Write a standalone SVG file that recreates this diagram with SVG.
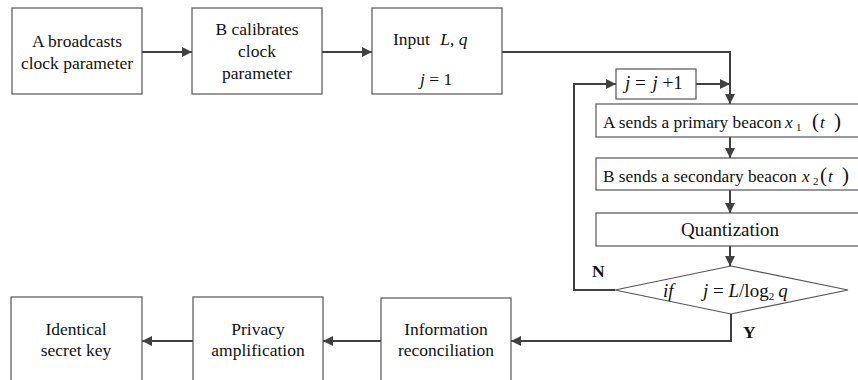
<svg xmlns="http://www.w3.org/2000/svg" width="858" height="380" viewBox="0 0 858 380">
<defs>
<marker id="ah" viewBox="0 0 10 10" refX="10" refY="5" markerWidth="10" markerHeight="10" markerUnits="userSpaceOnUse" orient="auto">
<path d="M0,0 L10,5 L0,10 Z" fill="#404040"/>
</marker>
<style>
.box{fill:#fff;stroke:#555;stroke-width:1.2}
.t{font-family:'Liberation Serif','Times New Roman',serif;font-size:17.5px;fill:#111}
.r{font-size:19px}
.s{font-size:17.3px}
.sub{font-size:11px}
.p{font-size:21px}
.c{text-anchor:middle}
.i{font-style:italic}
.b{font-weight:bold}
.ar{fill:none;stroke:#404040;stroke-width:2;marker-end:url(#ah)}
</style>
</defs>
<rect width="858" height="380" fill="#fff"/>
<g id="connectors">
<path class="ar" d="M142,52 H192"/>
<path class="ar" d="M322,52 H372"/>
<path class="ar" d="M502,52 H730 V104"/>
<path class="ar" d="M615,290 H574 V84 H616"/>
<path class="ar" d="M696,84 H730"/>
<path class="ar" d="M730,137 V158"/>
<path class="ar" d="M730,190 V213"/>
<path class="ar" d="M730,246 V266"/>
<path class="ar" d="M731,314 V341 H511"/>
<path class="ar" d="M381,341 H323"/>
<path class="ar" d="M193,341 H142"/>
</g>
<g id="n1"><rect class="box" x="12" y="8" width="130" height="86"/>
<text class="t c" x="77" y="47">A broadcasts</text><text class="t c" x="77" y="69">clock parameter</text></g>
<g id="n2"><rect class="box" x="192" y="8" width="130" height="86"/>
<text class="t c" x="257" y="35">B calibrates</text><text class="t c" x="257" y="57">clock</text><text class="t c" x="257" y="79">parameter</text></g>
<g id="n3"><rect class="box" x="372" y="8" width="130" height="86"/>
<text class="t" x="393" y="45">Input <tspan class="i" dx="6">L</tspan>, <tspan class="i">q</tspan></text>
<text class="t" x="420" y="85"><tspan class="i">j</tspan> = 1</text></g>
<g id="n4"><rect class="box" x="616" y="69" width="80" height="30"/>
<text class="t r" x="625" y="89"><tspan class="i">j</tspan> = <tspan class="i" dx="2">j</tspan> +1</text></g>
<g id="n5"><rect class="box" x="596" y="104" width="280" height="33"/>
<text class="t s" x="603" y="128">A sends a primary beacon <tspan class="i" x="785">x</tspan><tspan class="sub" x="796" y="131">1</tspan><tspan class="p" x="812" y="128">(</tspan><tspan class="i" x="820">t</tspan><tspan class="p" x="834">)</tspan></text></g>
<g id="n6"><rect class="box" x="596" y="158" width="280" height="32"/>
<text class="t s" x="603" y="182">B sends a secondary beacon <tspan class="i" x="802">x</tspan><tspan class="sub" x="813" y="185">2</tspan><tspan class="p" x="820" y="182">(</tspan><tspan class="i" x="828">t</tspan><tspan class="p" x="842">)</tspan></text></g>
<g id="n7"><rect class="box" x="596" y="213" width="280" height="33"/>
<text class="t r c" x="730" y="236">Quantization</text></g>
<g id="n8"><path class="box" d="M731,266 L848,290 L731,314 L615,290 Z"/>
<text class="t r i" x="663" y="297">if</text>
<text class="t r" x="703" y="297"><tspan class="i">j</tspan> = <tspan class="i">L</tspan>/log<tspan class="sub" dy="3">2</tspan><tspan dy="-3" dx="4" class="i">q</tspan></text>
<text class="t b" x="592" y="277">N</text>
<text class="t b" x="743" y="338">Y</text></g>
<g id="n9"><rect class="box" x="381" y="298" width="130" height="100"/>
<text class="t c" x="446" y="335">Information</text><text class="t c" x="446" y="356">reconciliation</text></g>
<g id="n10"><rect class="box" x="193" y="297" width="130" height="100"/>
<text class="t c" x="258" y="335">Privacy</text><text class="t c" x="258" y="356">amplification</text></g>
<g id="n11"><rect class="box" x="11" y="297" width="131" height="100"/>
<text class="t c" x="76" y="335">Identical</text><text class="t c" x="76" y="356">secret key</text></g>
</svg>
